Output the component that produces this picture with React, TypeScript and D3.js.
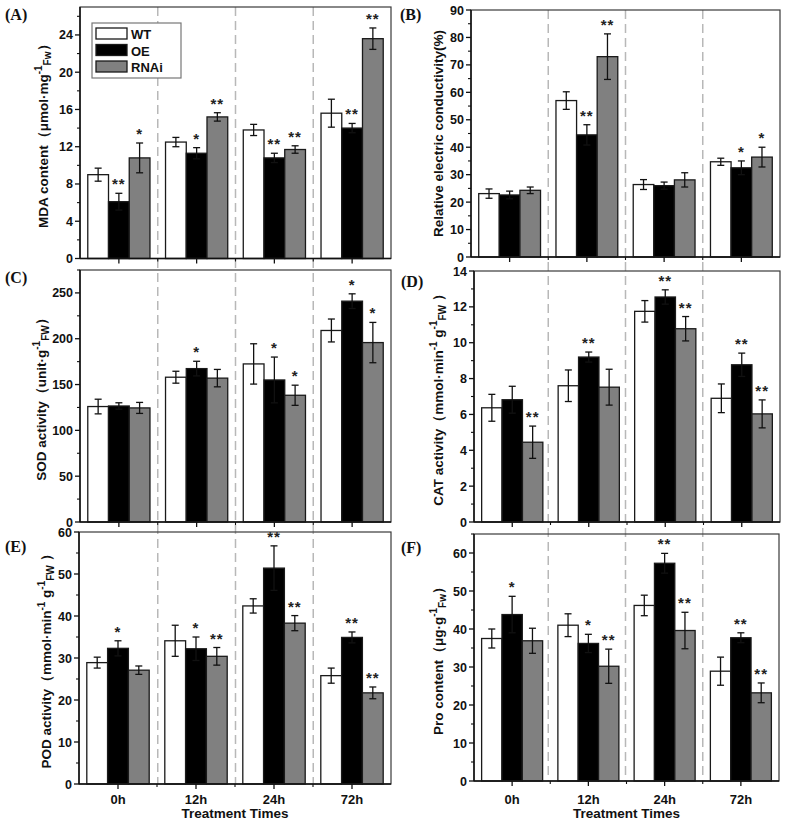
import React from "react";
import * as d3 from "d3";

// ---------- data ----------
const categories = ["0h", "12h", "24h", "72h"];
const seriesNames = ["WT", "OE", "RNAi"];

// (A) MDA content  [series][category]
const mdaMean = [[9.0, 12.5, 13.8, 15.6], [6.1, 11.3, 10.8, 14.0], [10.8, 15.2, 11.7, 23.6]];
const mdaErr = [[0.7, 0.5, 0.6, 1.5], [0.9, 0.6, 0.5, 0.5], [1.6, 0.45, 0.4, 1.15]];
const mdaSig = [["", "", "", ""], ["**", "*", "**", "**"], ["*", "**", "**", "**"]];
const mdaTicks = [0, 4, 8, 12, 16, 20, 24];

// (B) Relative electric conductivity
const recMean = [[23.1, 57.0, 26.4, 34.7], [22.6, 44.5, 26.0, 32.5], [24.3, 73.0, 28.1, 36.4]];
const recErr = [[1.7, 3.2, 1.8, 1.3], [1.4, 3.7, 1.3, 2.5], [1.2, 8.3, 2.6, 3.6]];
const recSig = [["", "", "", ""], ["", "**", "", "*"], ["", "**", "", "*"]];
const recTicks = [0, 10, 20, 30, 40, 50, 60, 70, 80, 90];

// (C) SOD activity
const sodMean = [[126, 158, 172.5, 209], [126.6, 167.4, 155, 241], [124.5, 157, 138.3, 195.8]];
const sodErr = [[8, 6.5, 22, 12.5], [3.5, 8, 25, 8], [6, 9.5, 11, 22]];
const sodSig = [["", "", "", ""], ["", "*", "*", "*"], ["", "", "*", "*"]];
const sodTicks = [0, 50, 100, 150, 200, 250];

// (D) CAT activity
const catMean = [[6.37, 7.6, 11.75, 6.9], [6.82, 9.2, 12.55, 8.77], [4.45, 7.52, 10.78, 6.03]];
const catErr = [[0.75, 0.88, 0.6, 0.8], [0.75, 0.28, 0.4, 0.65], [0.9, 1.0, 0.68, 0.78]];
const catSig = [["", "", "", ""], ["", "**", "**", "**"], ["**", "", "**", "**"]];
const catTicks = [0, 2, 4, 6, 8, 10, 12, 14];

// (E) POD activity
const podMean = [[28.9, 34.1, 42.4, 25.8], [32.3, 32.2, 51.4, 34.9], [27.1, 30.4, 38.3, 21.7]];
const podErr = [[1.3, 3.7, 1.7, 1.8], [1.8, 2.8, 5.3, 1.3], [1.0, 2.1, 1.8, 1.4]];
const podSig = [["", "", "", ""], ["*", "*", "**", "**"], ["", "**", "**", "**"]];
const podTicks = [0, 10, 20, 30, 40, 50, 60];

// (F) Pro content
const proMean = [[37.5, 41.0, 46.2, 28.9], [43.8, 36.2, 57.3, 37.7], [36.9, 30.2, 39.6, 23.2]];
const proErr = [[2.5, 3.0, 2.7, 3.7], [4.8, 2.4, 2.6, 1.3], [3.3, 4.5, 4.8, 2.6]];
const proSig = [["", "", "", ""], ["*", "*", "**", "**"], ["", "**", "**", "**"]];
const proTicks = [0, 10, 20, 30, 40, 50, 60];

const xTitle = "Treatment Times";

// ---------- layout / styles ----------
const FONT = "'Liberation Sans', Arial, Helvetica, sans-serif";
const SERIF = "'Liberation Serif', 'Times New Roman', serif";
const fills = ["#ffffff", "#000000", "#808080"];

type Seg = { t: string; k?: "sup" | "sub" };

const panels = [
  { id: "A", x0: 80, x1: 391, y0: 7, y1: 258.5, max: 27, ticks: mdaTicks, mean: mdaMean, err: mdaErr, sig: mdaSig,
    letter: [5, 20], titleX: 48, xlabels: false, legend: true,
    title: [{ t: "MDA content（μmol·mg" }, { t: "-1", k: "sup" }, { t: "Fw", k: "sub" }, { t: "）" }] as Seg[] },
  { id: "B", x0: 471, x1: 780, y0: 10, y1: 257, max: 90, ticks: recTicks, mean: recMean, err: recErr, sig: recSig,
    letter: [400, 20], titleX: 443, xlabels: false, legend: false,
    title: [{ t: "Relative electric conductivity(%)" }] as Seg[] },
  { id: "C", x0: 80, x1: 391, y0: 270, y1: 522, max: 275, ticks: sodTicks, mean: sodMean, err: sodErr, sig: sodSig,
    letter: [5, 283], titleX: 46, xlabels: false, legend: false,
    title: [{ t: "SOD activity（unit·g" }, { t: "-1", k: "sup" }, { t: "FW", k: "sub" }, { t: "）" }] as Seg[] },
  { id: "D", x0: 474, x1: 780, y0: 271, y1: 522, max: 14, ticks: catTicks, mean: catMean, err: catErr, sig: catSig,
    letter: [401, 287], titleX: 443, xlabels: false, legend: false,
    title: [{ t: "CAT activity（mmol·min" }, { t: "-1", k: "sup" }, { t: " g" }, { t: "-1", k: "sup" }, { t: "FW", k: "sub" }, { t: " ）" }] as Seg[] },
  { id: "E", x0: 79, x1: 391, y0: 532, y1: 784, max: 60, ticks: podTicks, mean: podMean, err: podErr, sig: podSig,
    letter: [5, 552], titleX: 51, xlabels: true, legend: false,
    title: [{ t: "POD activity（mmol·min" }, { t: "-1", k: "sup" }, { t: " g" }, { t: "-1", k: "sup" }, { t: "FW", k: "sub" }, { t: " ）" }] as Seg[] },
  { id: "F", x0: 474, x1: 779, y0: 534, y1: 781, max: 65, ticks: proTicks, mean: proMean, err: proErr, sig: proSig,
    letter: [401, 553], titleX: 443, xlabels: true, legend: false,
    title: [{ t: "Pro content（μg·g" }, { t: "-1", k: "sup" }, { t: "Fw", k: "sub" }, { t: "）" }] as Seg[] },
];

function TitleText({ segs, x, y }: { segs: Seg[]; x: number; y: number }) {
  let cur = 0;
  const parts = segs.map((s, i) => {
    const target = s.k === "sup" ? -6 : s.k === "sub" ? 2.5 : 0;
    const dy = target - cur;
    cur = target;
    return (
      <tspan key={i} dy={dy} fontSize={s.k ? 10 : 13.5}>
        {s.t}
      </tspan>
    );
  });
  return (
    <text x={x} y={y} transform={`rotate(-90, ${x}, ${y})`} textAnchor="middle" fontFamily={FONT}
      fontWeight="bold" fontSize={13.5} fill="#111">
      {parts}
    </text>
  );
}

function Panel({ p }: { p: (typeof panels)[number] }) {
  const xb = d3.scaleBand<string>().domain(categories).range([p.x0, p.x1]).padding(0);
  const xs = d3.scaleBand<string>().domain(seriesNames).range([0, xb.bandwidth()]).paddingInner(0).paddingOuter(0.375);
  const y = d3.scaleLinear().domain([0, p.max]).range([p.y1, p.y0]);
  const step = p.ticks[1] - p.ticks[0];
  const minor = d3.range(step / 2, p.max + 1e-9, step);
  const cy = (p.y0 + p.y1) / 2;
  const cx = (p.x0 + p.x1) / 2;
  return (
    <g>
      {/* bars */}
      {seriesNames.map((s, si) =>
        categories.map((c, ci) => {
          const m = p.mean[si][ci];
          const e = p.err[si][ci];
          const bx = (xb(c) as number) + (xs(s) as number);
          const bw = xs.bandwidth();
          const mx = bx + bw / 2;
          return (
            <g key={s + c}>
              <rect x={bx} y={y(m)} width={bw} height={y(0) - y(m)} fill={fills[si]} stroke="#1a1a1a" strokeWidth={1.3} />
              <line x1={mx} x2={mx} y1={y(m + e)} y2={y(m - e)} stroke="#111" strokeWidth={1.3} />
              <line x1={mx - 3.5} x2={mx + 3.5} y1={y(m + e)} y2={y(m + e)} stroke="#111" strokeWidth={1.3} />
              <line x1={mx - 3.5} x2={mx + 3.5} y1={y(m - e)} y2={y(m - e)} stroke="#111" strokeWidth={1.3} />
              {p.sig[si][ci] && (
                <text x={mx} y={y(m + e) - 4} textAnchor="middle" fontFamily={FONT} fontWeight="bold"
                  fontSize={15} letterSpacing={1} fill="#222">
                  {p.sig[si][ci]}
                </text>
              )}
            </g>
          );
        })
      )}
      {/* frame */}
      <rect x={p.x0} y={p.y0} width={p.x1 - p.x0} height={p.y1 - p.y0} fill="none" stroke="#3a3a3a" strokeWidth={1.2} />
      <line x1={p.x0} x2={p.x0} y1={p.y0} y2={p.y1} stroke="#111" strokeWidth={1.5} />
      <line x1={p.x0} x2={p.x1} y1={p.y1} y2={p.y1} stroke="#111" strokeWidth={1.5} />
      {/* y ticks */}
      {p.ticks.map((t) => (
        <g key={"t" + t}>
          <line x1={p.x0 - 5} x2={p.x0} y1={y(t)} y2={y(t)} stroke="#111" strokeWidth={1.3} />
          <text x={p.x0 - 7} y={y(t)} dy="0.36em" textAnchor="end" fontFamily={FONT} fontWeight="bold"
            fontSize={12.5} fill="#111">
            {t}
          </text>
        </g>
      ))}
      {minor.map((t) => (
        <line key={"m" + t} x1={p.x0 - 3} x2={p.x0} y1={y(t)} y2={y(t)} stroke="#111" strokeWidth={1.1} />
      ))}
      {/* x ticks */}
      {categories.map((c, i) => {
        const mx = (xb(c) as number) + xb.bandwidth() / 2;
        return (
          <g key={"x" + c}>
            <line x1={mx} x2={mx} y1={p.y1} y2={p.y1 + 5} stroke="#111" strokeWidth={1.3} />
            {i > 0 && (
              <line x1={xb(c)} x2={xb(c)} y1={p.y1} y2={p.y1 + 3} stroke="#111" strokeWidth={1.1} />
            )}
            {p.xlabels && (
              <text x={mx} y={803.5} textAnchor="middle" fontFamily={FONT} fontWeight="bold" fontSize={13} fill="#111">
                {c}
              </text>
            )}
          </g>
        );
      })}
      {p.xlabels && (
        <text x={cx} y={818} textAnchor="middle" fontFamily={FONT} fontWeight="bold" fontSize={13.5} fill="#111">
          {xTitle}
        </text>
      )}
      <TitleText segs={p.title} x={p.titleX} y={cy} />
      <text x={p.letter[0]} y={p.letter[1]} fontFamily={SERIF} fontWeight="bold" fontSize={16} fill="#111">
        ({p.id})
      </text>
      {p.legend && (
        <g>
          <rect x={92} y={23} width={89} height={55} fill="#fff" stroke="#777" strokeWidth={1.2} />
          {seriesNames.map((s, si) => (
            <g key={"lg" + s}>
              <rect x={96} y={28 + si * 16.5} width={31} height={11} fill={fills[si]} stroke="#1a1a1a" strokeWidth={1.3} />
              <text x={131} y={39 + si * 16.5} fontFamily={FONT} fontWeight="bold" fontSize={13} fill="#111">
                {s}
              </text>
            </g>
          ))}
        </g>
      )}
    </g>
  );
}

export default function App() {
  const columns = [
    { top: panels[0], bottom: panels[4] },
    { top: panels[1], bottom: panels[5] },
  ];
  return (
    <svg width={786} height={826} style={{ position: "absolute", left: 0, top: 0, background: "#fff" }}>
      <rect x={0} y={0} width={786} height={826} fill="#fff" />
      {columns.map((col, k) => {
        const xb = d3.scaleBand<string>().domain(categories).range([col.top.x0, col.top.x1]).padding(0);
        return categories.slice(1).map((c) => (
          <line key={k + c} x1={xb(c)} x2={xb(c)} y1={col.top.y0} y2={col.bottom.y1} stroke="#b8b8b8"
            strokeWidth={1.5} strokeDasharray="9,5" />
        ));
      })}
      {panels.map((p) => (
        <Panel key={p.id} p={p} />
      ))}
    </svg>
  );
}
